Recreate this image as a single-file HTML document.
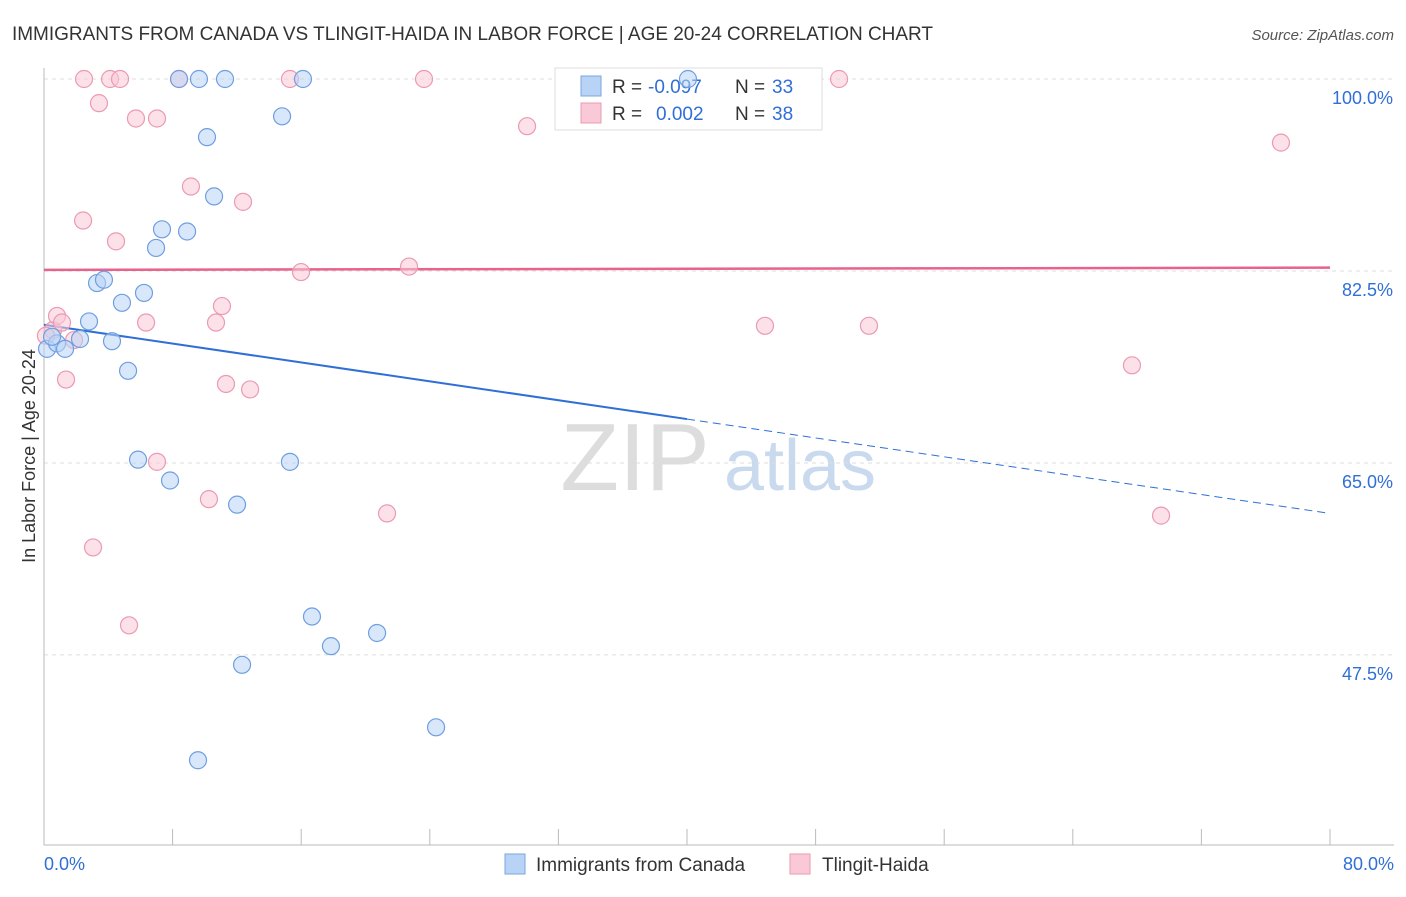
<!DOCTYPE html>
<html><head><meta charset="utf-8"><style>
body{margin:0;background:#fff;font-family:"Liberation Sans",sans-serif}
svg text{font-family:"Liberation Sans",sans-serif}
</style></head><body>
<svg id="c" width="1406" height="892">
<text x="12" y="40" font-size="19" fill="#333" textLength="921">IMMIGRANTS FROM CANADA VS TLINGIT-HAIDA IN LABOR FORCE | AGE 20-24 CORRELATION CHART</text>
<text x="1394" y="40" font-size="15" fill="#555" text-anchor="end" font-style="italic">Source: ZipAtlas.com</text>
<text x="35" y="456" font-size="18" fill="#333" text-anchor="middle" transform="rotate(-90 35 456)">In Labor Force | Age 20-24</text>
<g><text x="635" y="490" font-size="96" font-family="Liberation Serif" fill="#ddd" text-anchor="middle">ZIP</text><text x="800" y="490" font-size="72" fill="#c9d9ee" text-anchor="middle">atlas</text></g>
<g id="grid"></g><g id="axes"></g>
<g>
<rect x="555" y="68" width="267" height="62" fill="#fff" stroke="#ddd"/>
<rect x="581" y="76" width="20" height="20" fill="#b8d3f5" stroke="#7aa7e0"/>
<rect x="581" y="103" width="20" height="20" fill="#f9c9d7" stroke="#eb9ab3"/>
<text x="612" y="93" font-size="19" fill="#333">R =</text><text x="648" y="93" font-size="19" fill="#2f6fd6">-0.097</text>
<text x="735" y="93" font-size="19" fill="#333">N =</text><text x="772" y="93" font-size="19" fill="#2f6fd6">33</text>
<text x="612" y="120" font-size="19" fill="#333">R =</text><text x="656" y="120" font-size="19" fill="#2f6fd6">0.002</text>
<text x="735" y="120" font-size="19" fill="#333">N =</text><text x="772" y="120" font-size="19" fill="#2f6fd6">38</text>
</g>
<g id="trend"></g><g id="pts"></g>
<g>
<rect x="505" y="854" width="20" height="20" fill="#b8d3f5" stroke="#7aa7e0"/>
<text x="536" y="871" font-size="19" fill="#333">Immigrants from Canada</text>
<rect x="790" y="854" width="20" height="20" fill="#f9c9d7" stroke="#eb9ab3"/>
<text x="822" y="871" font-size="19" fill="#333">Tlingit-Haida</text>
</g>
</svg>
<script>
const blueX=[0.19,0.81,1.31,2.24,2.80,3.30,3.73,4.23,4.85,5.23,5.85,6.22,6.97,7.34,7.84,8.40,8.90,9.64,10.14,10.58,11.26,12.01,12.32,14.81,15.30,16.11,16.67,17.85,20.72,24.39,9.58,40.06,0.5];
const blueY=[75.4,75.9,75.4,76.3,77.9,81.4,81.7,76.1,79.6,73.4,65.3,80.5,84.6,86.3,63.4,100,86.1,100,94.7,89.3,100,61.2,46.6,96.6,65.1,100,51.0,48.3,49.5,40.9,37.9,100,76.5];
const pinkX=[0.56,0.81,1.12,1.37,1.87,2.43,2.49,3.05,3.42,4.11,4.48,4.73,5.29,5.72,6.35,7.03,7.03,8.40,9.14,10.26,10.70,11.07,11.32,12.38,12.82,15.30,15.99,21.34,22.71,23.64,30.05,44.85,49.46,51.32,67.68,69.49,76.95,0.12];
const pinkY=[77.1,78.4,77.8,72.6,76.2,87.1,100,57.3,97.8,100,85.2,100,50.2,96.4,77.8,96.4,65.1,100,90.2,61.7,77.8,79.3,72.2,88.8,71.7,100,82.4,60.4,82.9,100,95.7,77.5,100,77.5,73.9,60.2,94.2,76.6];
const yTicks=[100,82.5,65,47.5];
const yTickLabels=["100.0%","82.5%","65.0%","47.5%"];
const blueTrend=[77.6,60.4];
const pinkTrend=[82.6,82.8];
const NS="http://www.w3.org/2000/svg";
const sx=v=>44+v*(1286/80), sy=v=>79+(100-v)*10.97;
function mk(p,t,a){const e=document.createElementNS(NS,t);for(const k in a)e.setAttribute(k,a[k]);document.getElementById(p).appendChild(e);return e;}
yTicks.forEach((t,i)=>{
 const l=mk('grid','line',{x1:44,x2:1394,y1:sy(t),y2:sy(t),stroke:'#ddd','stroke-dasharray':'4,4'});
 
 
 const tx=mk('grid','text',{x:1393,y:sy(t)+25,'font-size':18,fill:'#2f6fd6','text-anchor':'end'});
 tx.textContent=yTickLabels[i];
 
 
});
let a=mk('axes','line',{x1:44,x2:44,y1:68,y2:845,stroke:'#bbb'});


a=mk('axes','line',{x1:44,x2:1394,y1:845,y2:845,stroke:'#bbb'});


for(let v=8;v<=80;v+=8){const t=mk('axes','line',{x1:sx(v),x2:sx(v),y1:829,y2:845,stroke:'#bbb'});
 
 }
let xl=mk('axes','text',{x:44,y:870,'font-size':18,fill:'#2f6fd6'});xl.textContent='0.0%';


xl=mk('axes','text',{x:1394,y:870,'font-size':18,fill:'#2f6fd6','text-anchor':'end'});xl.textContent='80.0%';


function pts(X,Y,f,s,n){X.forEach((x,i)=>{const c=mk('pts','circle',{cx:sx(x),cy:sy(Y[i]),r:8.5,fill:f,'fill-opacity':0.55,stroke:s,'stroke-width':1.2});
 
 });}
pts(pinkX,pinkY,'#f9c9d7','#eb9ab3','tlingit-point');
pts(blueX,blueY,'#b8d3f5','#6f9fe0','canada-point');
const by=x=>blueTrend[0]+(blueTrend[1]-blueTrend[0])*x/80;
let t=mk('trend','line',{x1:sx(0),y1:sy(by(0)),x2:sx(40),y2:sy(by(40)),stroke:'#2f6fd6','stroke-width':2});


t=mk('trend','line',{x1:sx(40),y1:sy(by(40)),x2:sx(80),y2:sy(by(80)),stroke:'#2f6fd6','stroke-width':1,'stroke-dasharray':'8,5'});


t=mk('trend','line',{x1:sx(0),y1:sy(pinkTrend[0]),x2:sx(80),y2:sy(pinkTrend[1]),stroke:'#e8628c','stroke-width':2.5});


</script>
</body></html>
